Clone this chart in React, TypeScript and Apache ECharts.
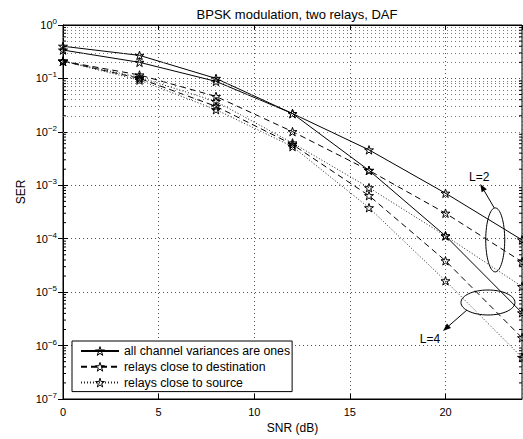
import React, { useEffect, useRef } from "react";
import * as echarts from "echarts";

// ---- data ----
const snrDb = [0, 4, 8, 12, 16, 20, 24];
const allOnesL4 = [0.4, 0.27, 0.1, 0.022, 0.0019, 1.13e-4, 4.1e-6];
const allOnesL2 = [0.34, 0.2, 0.088, 0.022, 0.0046, 7.1e-4, 9.5e-5];
const destL2 = [0.21, 0.116, 0.046, 0.0101, 0.0019, 3.0e-4, 3.7e-5];
const srcL2 = [0.21, 0.105, 0.037, 0.0062, 9.0e-4, 1.13e-4, 1.27e-5];
const destL4 = [0.21, 0.1, 0.03, 0.0058, 6.4e-4, 3.86e-5, 1.4e-6];
const srcL4 = [0.21, 0.093, 0.026, 0.0053, 3.8e-4, 1.63e-5, 6.0e-7];

const legendNames = [
  "all channel variances are ones",
  "relays close to destination",
  "relays close to source",
];
const titleText = "BPSK modulation, two relays, DAF";
const xName = "SNR (dB)";
const yName = "SER";
const decades = [1e-7, 1e-6, 1e-5, 1e-4, 1e-3, 1e-2, 1e-1];
const minorMultipliers = [2, 3, 4, 5, 6, 7, 8, 9];

// annotation anchors in data coordinates
const annotations = [
  { label: "L=2", center: [22.6, 9.5e-5], rx: 9.5, ry: 32, from: [-1, -32], to: [-15, -56], text: [-16, -63] },
  { label: "L=4", center: [22.22, 6.4e-6], rx: 27, ry: 12.5, from: [-21, 7.5], to: [-45, 28.5], text: [-58, 36.5] },
];

const STAR =
  "path://M50,0 L61.2,34.5 L97.6,34.5 L68.2,55.9 L79.4,90.5 L50,69.1 L20.6,90.5 L31.8,55.9 L2.4,34.5 L38.8,34.5 Z";

const FONT = "'Liberation Sans', Arial, Helvetica, sans-serif";

export default function App() {
  const ref = useRef<HTMLDivElement>(null);
  useEffect(() => {
    if (!ref.current) return;
    const chart = echarts.init(ref.current, undefined, { renderer: "svg" });

    const solid = { type: "solid" as const, color: "#000", width: 1 };
    const dashed = { type: [6, 4] as any, color: "#000", width: 1 };
    const dotted = { type: [1, 2] as any, color: "#222", width: 1 };
    const hollow = { color: "rgba(255,255,255,0)", borderColor: "#000", borderWidth: 1 };

    const mk = (name: string, data: number[], ls: any) => ({
      type: "line",
      name,
      data: snrDb.map((x, i) => [x, data[i]]),
      symbol: STAR,
      symbolSize: 9,
      symbolKeepAspect: true,
      showAllSymbol: true,
      lineStyle: ls,
      itemStyle: hollow,
      emphasis: { disabled: true },
      z: 3,
    });

    const minorValues: number[] = [];
    decades.forEach((d) => minorMultipliers.forEach((m) => minorValues.push(d * m)));
    const minorLines = minorValues.map((v) => ({ yAxis: v }));

    const labelFmt = (v: number) => {
      const e = Math.round(Math.log10(v));
      return `{b|10}{s|${e === 0 ? "0" : "\u2212" + -e}}`;
    };

    const option: any = {
      animation: false,
      textStyle: { fontFamily: FONT },
      title: {
        text: titleText,
        left: 292,
        textAlign: "center",
        top: 3,
        textStyle: { fontSize: 13, fontWeight: "normal", color: "#000", fontFamily: FONT },
      },
      grid: { left: 63, top: 25, width: 459, height: 374, show: true, borderColor: "#000", borderWidth: 1, backgroundColor: "#fff" },
      legend: {
        left: 72,
        top: 341,
        orient: "vertical",
        data: legendNames.map((n) => ({ name: n, itemStyle: hollow })),
        itemWidth: 38,
        itemHeight: 11,
        itemGap: 3.8,
        padding: [4, 2, 3, 8],
        borderColor: "#000",
        borderWidth: 1,
        backgroundColor: "#fff",
        itemStyle: hollow,
        symbolKeepAspect: true,
        textStyle: { fontSize: 12.3, color: "#000", fontFamily: FONT, padding: [0, 0, 0, 0] },
        selectedMode: false,
        z: 10,
      },
      xAxis: [
        {
          type: "value",
          min: 0,
          max: 24,
          interval: 5,
          name: xName,
          nameLocation: "middle",
          nameGap: 21,
          nameTextStyle: { fontSize: 12, color: "#000", fontFamily: FONT },
          axisLine: { show: true, lineStyle: { color: "#000" } },
          axisTick: { show: true, inside: true, length: 5, lineStyle: { color: "#000" } },
          axisLabel: { fontSize: 11, color: "#000", margin: 7, fontFamily: FONT, showMaxLabel: false },
          splitLine: { show: true, lineStyle: { type: [1, 3], color: "#555", width: 1 } },
        },
        {
          type: "value",
          position: "top",
          min: 0,
          max: 24,
          interval: 5,
          axisLine: { show: true, lineStyle: { color: "#000" } },
          axisTick: { show: true, inside: true, length: 5, lineStyle: { color: "#000" } },
          axisLabel: { show: false },
          splitLine: { show: false },
        },
      ],
      yAxis: [
        {
          type: "log",
          logBase: 10,
          min: 1e-7,
          max: 1,
          axisLine: { show: true, lineStyle: { color: "#000" } },
          axisTick: { show: true, inside: true, length: 5, lineStyle: { color: "#000" } },
          axisLabel: {
            formatter: labelFmt,
            margin: 6,
            rich: {
              b: { fontSize: 11, color: "#000", fontFamily: FONT },
              s: { fontSize: 8, color: "#000", fontFamily: FONT, verticalAlign: "bottom", padding: [0, 0, 7, 0] },
            },
          },
          splitLine: { show: true, lineStyle: { type: [1, 3], color: "#555", width: 1 } },
        },
        {
          type: "log",
          logBase: 10,
          min: 1e-7,
          max: 1,
          position: "right",
          axisLine: { show: true, lineStyle: { color: "#000" } },
          axisTick: { show: true, inside: true, length: 5, lineStyle: { color: "#000" } },
          axisLabel: { show: false },
          splitLine: { show: false },
        },
      ],
      series: [
        {
          type: "line",
          name: "__grid",
          data: [],
          silent: true,
          markLine: {
            silent: true,
            symbol: "none",
            label: { show: false },
            lineStyle: { type: [1, 3], color: "#777", width: 1 },
            data: minorLines,
          },
          z: 1,
        },
        mk(legendNames[0], allOnesL2, solid),
        mk(legendNames[0], allOnesL4, solid),
        mk(legendNames[1], destL2, dashed),
        mk(legendNames[1], destL4, dashed),
        mk(legendNames[2], srcL2, dotted),
        mk(legendNames[2], srcL4, dotted),
      ],
    };
    chart.setOption(option);

    const elements: any[] = [];

    // minor tick marks on the left and right axes
    const left = (chart.convertToPixel({ gridIndex: 0 }, [0, 1]) as number[])[0];
    const right = (chart.convertToPixel({ gridIndex: 0 }, [24, 1]) as number[])[0];
    minorValues.forEach((v) => {
      const y = (chart.convertToPixel({ gridIndex: 0 }, [0, v]) as number[])[1];
      elements.push({ type: "line", shape: { x1: left, y1: y, x2: left + 3, y2: y }, style: { stroke: "#000", lineWidth: 1 }, z: 5, silent: true });
      elements.push({ type: "line", shape: { x1: right - 3, y1: y, x2: right, y2: y }, style: { stroke: "#000", lineWidth: 1 }, z: 5, silent: true });
    });

    // y-axis name (MATLAB places it slightly above the axis centre)
    const yTop = (chart.convertToPixel({ gridIndex: 0 }, [0, 1]) as number[])[1];
    const yBot = (chart.convertToPixel({ gridIndex: 0 }, [0, 1e-7]) as number[])[1];
    elements.push({
      type: "text",
      x: 21,
      y: (yTop + yBot) / 2 - 20,
      rotation: Math.PI / 2,
      style: { text: yName, fill: "#000", font: `12px ${FONT}`, textAlign: "center", textVerticalAlign: "middle" },
      z: 20,
    });

    // annotations (ellipses + arrows + labels) placed from data coordinates
    annotations.forEach((a) => {
      const p = chart.convertToPixel({ gridIndex: 0 }, a.center as any) as number[];
      const [cx, cy] = p;
      elements.push({
        type: "ellipse",
        shape: { cx, cy, rx: a.rx, ry: a.ry },
        style: { fill: "none", stroke: "#000", lineWidth: 1 },
        z: 20,
      });
      const x1 = cx + a.from[0], y1 = cy + a.from[1];
      const x2 = cx + a.to[0], y2 = cy + a.to[1];
      const ang = Math.atan2(y2 - y1, x2 - x1);
      const hl = 8, hw = 3;
      const bx = x2 - hl * Math.cos(ang), by = y2 - hl * Math.sin(ang);
      elements.push({
        type: "line",
        shape: { x1, y1, x2: bx, y2: by },
        style: { stroke: "#000", lineWidth: 1 },
        z: 20,
      });
      elements.push({
        type: "polygon",
        shape: {
          points: [
            [x2, y2],
            [bx + hw * Math.sin(ang), by - hw * Math.cos(ang)],
            [bx - hw * Math.sin(ang), by + hw * Math.cos(ang)],
          ],
        },
        style: { fill: "#000" },
        z: 20,
      });
      elements.push({
        type: "text",
        x: cx + a.text[0],
        y: cy + a.text[1],
        style: { text: a.label, fill: "#000", font: `12px ${FONT}`, textAlign: "center", textVerticalAlign: "middle" },
        z: 20,
      });
    });
    chart.setOption({ graphic: elements });

    return () => chart.dispose();
  }, []);

  return <div ref={ref} style={{ position: "absolute", left: 0, top: 0, width: 523, height: 439 }} />;
}
